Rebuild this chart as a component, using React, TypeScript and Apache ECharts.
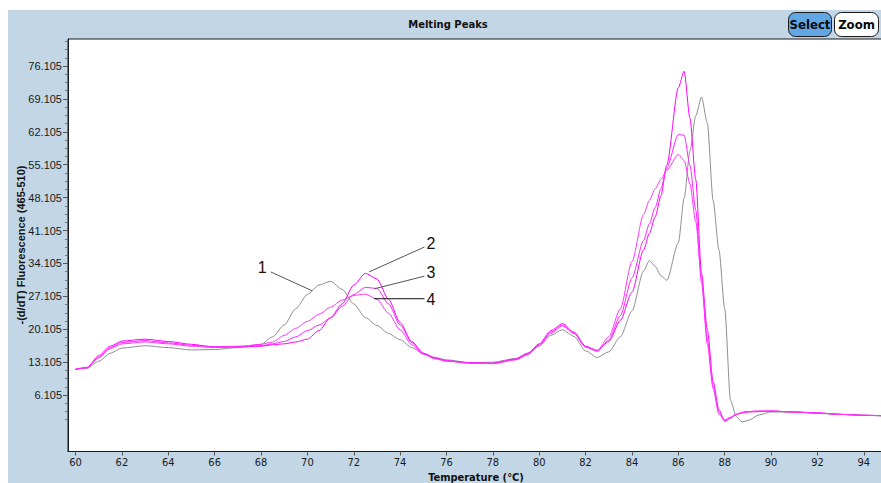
import React, { useEffect, useRef } from "react";
import * as echarts from "echarts";

// Temperatures (°C) shared by all curves
const temps = [60, 60.5, 61, 61.5, 62, 63, 64, 65, 66, 67, 68, 68.5, 69, 69.5, 70, 70.5, 71, 71.5, 72, 72.5, 73, 73.5, 74, 74.5, 75, 75.5, 76, 77, 78, 79, 79.5, 80, 80.5, 81, 81.5, 82, 82.5, 83, 83.5, 84, 84.5, 84.75, 85, 85.25, 85.5, 86, 86.25, 86.5, 86.75, 87, 87.25, 87.5, 87.75, 88, 88.25, 88.5, 88.75, 89, 89.5, 90, 91, 92, 93, 94, 95];

// -(d/dT) Fluorescence values
const sample1 = [11.6, 11.8, 13.3, 15.0, 16.1, 16.6, 16.2, 15.7, 15.8, 16.2, 16.9, 18.5, 21.0, 24.5, 27.5, 29.5, 30.3, 28.6, 25.5, 22.6, 20.9, 19.2, 17.9, 16.2, 14.9, 14.1, 13.6, 13.0, 13.1, 13.9, 15.0, 16.6, 18.8, 20.0, 18.6, 15.5, 14.1, 15.3, 18.5, 24.0, 32.5, 34.7, 33.5, 31.5, 30.5, 38.5, 48.0, 58.0, 65.5, 69.5, 64.0, 47.5, 37.0, 24.5, 5.0, 1.5, 0.4, 0.7, 1.9, 2.5, 2.5, 2.2, 2.0, 1.8, 1.6];
const sample2 = [11.6, 12.0, 14.5, 16.5, 17.6, 18.0, 17.5, 16.9, 16.3, 16.3, 16.5, 16.8, 17.0, 17.4, 18.0, 19.8, 22.6, 25.5, 29.5, 32.0, 30.8, 26.5, 21.5, 17.5, 15.0, 14.0, 13.4, 13.0, 12.9, 13.8, 15.0, 17.0, 19.8, 21.3, 19.5, 16.5, 15.6, 17.5, 22.0, 28.0, 37.0, 40.5, 44.0, 48.5, 55.0, 71.5, 75.0, 65.0, 52.0, 32.0, 20.0, 9.0, 3.0, 0.5, 1.2, 2.0, 2.3, 2.5, 2.6, 2.7, 2.5, 2.3, 2.0, 1.8, 1.7];
const sample3 = [11.6, 11.9, 14.2, 16.2, 17.3, 17.7, 17.2, 16.7, 16.4, 16.5, 16.6, 17.0, 17.5, 18.5, 19.8, 21.0, 22.5, 25.0, 27.5, 29.0, 28.8, 25.5, 21.0, 17.3, 15.0, 14.0, 13.4, 12.9, 12.8, 13.7, 14.8, 16.8, 19.5, 21.0, 19.3, 16.3, 15.4, 17.8, 23.0, 31.0, 39.0, 42.5, 46.0, 50.0, 54.5, 61.5, 61.4, 55.0, 45.5, 30.0, 17.0, 7.5, 2.0, 0.8, 1.4, 2.0, 2.4, 2.6, 2.7, 2.7, 2.5, 2.3, 2.0, 1.8, 1.7];
const sample4 = [11.6, 11.9, 14.0, 16.0, 17.0, 17.4, 17.0, 16.5, 16.2, 16.4, 16.9, 17.4, 18.8, 20.3, 21.8, 23.3, 24.8, 26.3, 27.3, 27.6, 26.5, 23.5, 20.0, 16.8, 14.8, 13.8, 13.3, 12.9, 12.8, 13.6, 14.7, 16.6, 19.2, 20.8, 19.2, 16.3, 15.6, 18.5, 24.5, 34.5, 44.5, 47.5, 50.0, 52.0, 54.0, 57.3, 56.0, 51.0, 43.0, 31.0, 18.0, 8.0, 2.5, 0.6, 1.3, 2.0, 2.4, 2.6, 2.7, 2.7, 2.5, 2.3, 2.0, 1.8, 1.7];

const seriesNames = ["1", "2", "3", "4"];
const seriesColors = ["#8f8f8f", "#ff00ff", "#ff22ff", "#ff33ff"];

// Axis tick labels
const xTicks = [60, 62, 64, 66, 68, 70, 72, 74, 76, 78, 80, 82, 84, 86, 88, 90, 92, 94];
const yTicks = [6.105, 13.105, 20.105, 27.105, 34.105, 41.105, 48.105, 55.105, 62.105, 69.105, 76.105];

// Annotation labels: anchor on curve, and end of leader line (data units)
const annoLabels = ["1", "2", "3", "4"];
const annoAnchor = [[70.2, 28.3], [72.66, 32.3], [72.88, 28.7], [72.88, 26.6]];
const annoEnd = [[68.42, 32.3], [75.05, 37.6], [75.05, 31.4], [75.05, 26.6]];

const NARROW = "'DejaVu Sans Condensed', 'Liberation Sans', sans-serif";

export default function App() {
  const ref = useRef<HTMLDivElement>(null);

  useEffect(() => {
    if (!ref.current) return;
    const chart = echarts.init(ref.current, null, { renderer: "svg" });
    const allSeries = [sample1, sample2, sample3, sample4];
    const minorTicks: number[] = [];
    yTicks.forEach((m) => {
      if (m - 5.25 > 0) {
        minorTicks.push(m - 5.25);
      }
      minorTicks.push(m - 3.5, m - 1.75);
    });
    const top = yTicks[yTicks.length - 1];
    minorTicks.push(top + 1.75, top + 3.5, top + 5.25);

    const baseGraphic: any[] = [
      { type: "rect", shape: { x: 0, y: 0, width: 881, height: 10 }, style: { fill: "#ffffff" }, silent: true },
      { type: "rect", shape: { x: 0, y: 0, width: 8, height: 483 }, style: { fill: "#ffffff" }, silent: true },
      {
        type: "text", x: 448, y: 24,
        style: { text: "Melting Peaks", font: "bold 10px 'DejaVu Sans'", fill: "#111", align: "center", verticalAlign: "middle" },
      },
      { type: "rect", shape: { x: 788.5, y: 12.5, width: 43, height: 24, r: 7 }, style: { fill: "#62a6e4", stroke: "#1a1a1a", lineWidth: 1 } },
      {
        type: "text", x: 810, y: 24.5,
        style: { text: "Select", font: "bold 13px " + NARROW, fill: "#0a0a0a", align: "center", verticalAlign: "middle" },
      },
      { type: "rect", shape: { x: 834.5, y: 12.5, width: 44, height: 24, r: 7 }, style: { fill: "#ffffff", stroke: "#1a1a1a", lineWidth: 1 } },
      {
        type: "text", x: 856.5, y: 24.5,
        style: { text: "Zoom", font: "bold 13px " + NARROW, fill: "#0a0a0a", align: "center", verticalAlign: "middle" },
      },
      {
        type: "text", x: 476, y: 477,
        style: { text: "Temperature (°C)", font: "bold 11px " + NARROW, fill: "#111", align: "center", verticalAlign: "middle" },
      },
      {
        type: "text", x: 21, y: 245, rotation: Math.PI / 2,
        style: { text: "-(d/dT) Fluorescence (465-510)", font: "bold 11px 'Liberation Sans'", fill: "#111", align: "center", verticalAlign: "middle" },
      },
    ];

    const option: any = {
      animation: false,
      backgroundColor: "#c3d6e6",
      grid: {
        left: 68, top: 39, right: -3, bottom: 31.5,
        outerBoundsMode: "none",
        show: true, backgroundColor: "#ffffff", borderColor: "#1a1a1a", borderWidth: 1,
      },
      xAxis: {
        type: "value", min: 59.675, max: 94.87,
        axisLine: { show: true, onZero: false, lineStyle: { color: "#1a1a1a", width: 1 } },
        axisTick: { show: true, length: 4, customValues: xTicks, lineStyle: { color: "#555" } },
        axisLabel: { customValues: xTicks, fontFamily: NARROW, fontSize: 11, color: "#1a1a1a", margin: 5 },
        splitLine: { show: false },
      },
      yAxis: [
        {
          type: "value", min: -5.9, max: 81.85,
          axisLine: { show: true, onZero: false, lineStyle: { color: "#1a1a1a", width: 1 } },
          axisTick: { show: true, length: 5, customValues: yTicks, lineStyle: { color: "#555" } },
          axisLabel: {
            customValues: yTicks, fontFamily: "Liberation Sans", fontSize: 11, color: "#1a1a1a", margin: 6,
            formatter: (v: number) => v.toFixed(3),
          },
          splitLine: { show: false },
        },
        {
          type: "value", min: -5.9, max: 81.85, position: "left",
          axisLine: { show: false, onZero: false },
          axisTick: { show: true, length: 3, customValues: minorTicks, lineStyle: { color: "#777" } },
          axisLabel: { show: false },
          splitLine: { show: false },
        },
      ],
      series: allSeries.map((vals, i) => ({
        name: seriesNames[i],
        type: "line",
        yAxisIndex: 0,
        data: temps.map((t, j) => [t, vals[j]]),
        showSymbol: false,
        symbol: "none",
        smooth: 0.25,
        smoothMonotone: "x",
        lineStyle: { color: seriesColors[i], width: 1 },
        z: i === 0 ? 2 : 3,
      })),
      graphic: baseGraphic,
    };
    chart.setOption(option);

    const anno: any[] = [];
    annoLabels.forEach((lab, i) => {
      const a = chart.convertToPixel({ gridIndex: 0 }, annoAnchor[i]) as number[];
      const e = chart.convertToPixel({ gridIndex: 0 }, annoEnd[i]) as number[];
      anno.push({
        type: "line",
        shape: { x1: a[0], y1: a[1], x2: e[0], y2: e[1] },
        style: { stroke: i === 3 ? "#111" : "#555", lineWidth: 1 },
        z: 10,
      });
      const isLeft = i === 0;
      anno.push({
        type: "text",
        x: isLeft ? e[0] - 4 : e[0] + 2,
        y: i === 3 ? e[1] + 1 : e[1] - 4,
        style: {
          text: lab, font: "16px 'Liberation Sans'", fill: i === 0 ? "#2a0a0a" : "#111",
          align: isLeft ? "right" : "left", verticalAlign: "middle",
        },
        z: 10,
      });
    });
    chart.setOption({ graphic: [...baseGraphic, ...anno] });

    return () => chart.dispose();
  }, []);

  return <div ref={ref} style={{ position: "fixed", left: 0, top: 0, width: 881, height: 483 }} />;
}
